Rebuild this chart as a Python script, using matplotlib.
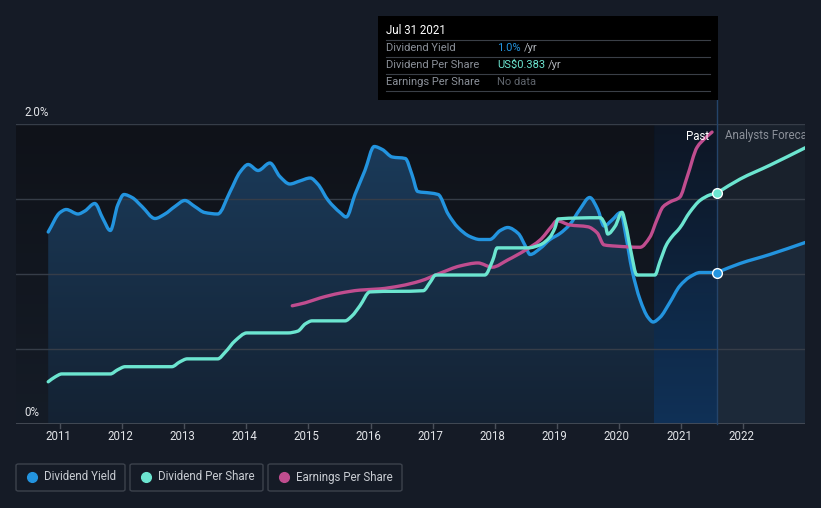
import numpy as np
import matplotlib
matplotlib.use("Agg")
import matplotlib.pyplot as plt
from matplotlib.colors import LinearSegmentedColormap
from matplotlib.patches import Rectangle, FancyBboxPatch, PathPatch
from matplotlib.path import Path

plt.rcParams['font.family'] = ['Roboto', 'DejaVu Sans']

# ---------------- data ----------------
yield_dates = [2010.81, 2011.00, 2011.10, 2011.29, 2011.40, 2011.56, 2011.69, 2011.81, 2011.93, 2012.03,
               2012.16, 2012.32, 2012.53, 2012.69, 2012.85, 2013.01, 2013.17, 2013.33, 2013.54, 2013.74,
               2013.90, 2014.03, 2014.19, 2014.38, 2014.54, 2014.70, 2014.86, 2015.03, 2015.15, 2015.32,
               2015.51, 2015.61, 2015.75, 2015.91, 2016.06, 2016.19, 2016.35, 2016.56, 2016.67, 2016.76,
               2016.96, 2017.09, 2017.25, 2017.41, 2017.60, 2017.76, 2017.92, 2018.09, 2018.21, 2018.38,
               2018.49, 2018.57, 2018.73, 2018.89, 2019.05, 2019.21, 2019.37, 2019.53, 2019.66, 2019.76,
               2019.89, 2020.03, 2020.11, 2020.21, 2020.34, 2020.47, 2020.55, 2020.66, 2020.82, 2020.98,
               2021.14, 2021.31, 2021.58]
yield_pct = [1.28, 1.41, 1.43, 1.40, 1.42, 1.47, 1.37, 1.29, 1.46, 1.53,
             1.51, 1.45, 1.37, 1.40, 1.45, 1.49, 1.45, 1.41, 1.40, 1.55,
             1.68, 1.73, 1.69, 1.74, 1.65, 1.60, 1.62, 1.64, 1.60, 1.49,
             1.41, 1.38, 1.53, 1.69, 1.85, 1.83, 1.78, 1.77, 1.66, 1.55,
             1.54, 1.53, 1.40, 1.31, 1.25, 1.23, 1.23, 1.29, 1.31, 1.27,
             1.19, 1.13, 1.17, 1.23, 1.27, 1.33, 1.43, 1.51, 1.43, 1.32,
             1.36, 1.41, 1.26, 1.03, 0.83, 0.71, 0.68, 0.71, 0.81, 0.92,
             0.98, 1.01, 1.01]
yield_fc_dates = [2021.58, 2021.95, 2022.43, 2023.00]
yield_fc_pct = [1.01, 1.07, 1.13, 1.21]

dps_dates = [2010.81, 2010.92, 2011.03, 2011.81, 2011.93, 2012.05, 2012.80, 2012.93, 2013.05, 2013.54,
             2013.66, 2013.82, 2014.01, 2014.67, 2014.83, 2014.95, 2015.06, 2015.59, 2015.70, 2015.83,
             2015.99, 2016.85, 2016.96, 2017.05, 2017.84, 2017.97, 2018.04, 2018.54, 2018.73, 2018.89,
             2018.97, 2019.02, 2019.70, 2019.78, 2019.82, 2019.94, 2020.05, 2020.11, 2020.19, 2020.29,
             2020.58, 2020.66, 2020.77, 2020.85, 2020.98, 2021.14, 2021.31, 2021.47, 2021.58]
dps_usd = [0.070, 0.078, 0.083, 0.083, 0.090, 0.095, 0.095, 0.103, 0.108, 0.108,
           0.119, 0.138, 0.151, 0.151, 0.154, 0.166, 0.171, 0.171, 0.179, 0.196,
           0.219, 0.221, 0.235, 0.247, 0.247, 0.272, 0.292, 0.292, 0.297, 0.310,
           0.325, 0.340, 0.342, 0.330, 0.315, 0.328, 0.351, 0.330, 0.288, 0.247,
           0.247, 0.269, 0.298, 0.310, 0.325, 0.351, 0.371, 0.380, 0.383]
dps_fc_dates = [2021.58, 2021.95, 2022.43, 2023.00]
dps_fc_usd = [0.383, 0.406, 0.429, 0.458]

eps_dates = [2014.74, 2014.95, 2015.19, 2015.51, 2015.83, 2016.15, 2016.48, 2016.80, 2017.12, 2017.44,
             2017.73, 2017.96, 2018.21, 2018.49, 2018.73, 2018.92, 2019.00, 2019.21, 2019.50, 2019.65,
             2019.76, 2019.94, 2020.34, 2020.50, 2020.61, 2020.71, 2020.82, 2020.98, 2021.10, 2021.26,
             2021.39, 2021.50]
eps_usd = [0.196, 0.201, 0.209, 0.217, 0.222, 0.224, 0.229, 0.237, 0.250, 0.262,
           0.267, 0.260, 0.272, 0.288, 0.305, 0.328, 0.337, 0.330, 0.327, 0.317,
           0.297, 0.295, 0.293, 0.310, 0.338, 0.360, 0.368, 0.376, 0.410, 0.459,
           0.474, 0.484]

year_ticks = list(range(2011, 2023))
past_start, past_end = 2020.57, 2021.58

# ---------------- colours ----------------
BG = '#151b26'
BLUE = '#2394df'
TEAL = '#6ce5d0'
MAG = '#c04d8f'

W, H = 821, 508
fig = plt.figure(figsize=(W / 100, H / 100), dpi=100, facecolor=BG)

def fx(px):
    return px / W

def fy(py):
    return 1 - py / H


def smooth_path(xs, ys, close_to=None):
    """Monotone cubic (Bezier) path through the data points."""
    x = np.asarray(xs, float)
    y = np.asarray(ys, float)
    n = len(x)
    d = np.diff(y) / np.diff(x)
    m = np.zeros(n)
    if n > 1:
        m[0] = d[0]
        m[-1] = d[-1]
    for i in range(1, n - 1):
        if d[i - 1] * d[i] <= 0:
            m[i] = 0.0
        else:
            w1 = 2 * (x[i + 1] - x[i]) + (x[i] - x[i - 1])
            w2 = (x[i + 1] - x[i]) + 2 * (x[i] - x[i - 1])
            m[i] = (w1 + w2) / (w1 / d[i - 1] + w2 / d[i])
    verts = [(x[0], y[0])]
    codes = [Path.MOVETO]
    for i in range(n - 1):
        h = x[i + 1] - x[i]
        verts += [(x[i] + h / 3, y[i] + m[i] * h / 3),
                  (x[i + 1] - h / 3, y[i + 1] - m[i + 1] * h / 3),
                  (x[i + 1], y[i + 1])]
        codes += [Path.CURVE4] * 3
    if close_to is not None:
        verts += [(x[-1], close_to), (x[0], close_to), (x[0], y[0])]
        codes += [Path.LINETO, Path.LINETO, Path.CLOSEPOLY]
    return Path(verts, codes)


def draw_line(axis, xs, ys, color, z):
    p = PathPatch(smooth_path(xs, ys), facecolor='none', edgecolor=color, lw=2.4,
                  joinstyle='round', capstyle='round', zorder=z)
    axis.add_patch(p)


# plot area in pixels: x 16..805, y 124..424
L, R, T, B = 16, 805, 124, 424
ax = fig.add_axes([fx(L), fy(B), fx(R) - fx(L), fy(T) - fy(B)])
ax.set_facecolor('none')
x0 = 2011 + (L - 60) / 62.1
x1 = 2011 + (R - 60) / 62.1
for s in ax.spines.values():
    s.set_visible(False)
ax.set_yticks([])
ax.set_xticks([])

grad = np.linspace(0, 1, 256).reshape(-1, 1)  # row 0 = top

# background regions
cm_past = LinearSegmentedColormap.from_list('p', ['#0f1219', '#151c27'])
ax.imshow(grad, extent=[x0, past_start, 0, 2.0], origin='upper', cmap=cm_past, aspect='auto', zorder=0)
ax.axvspan(past_end, x1, color='#19212c', zorder=0, lw=0)

# yield fill gradient (past)
cm_fill = LinearSegmentedColormap.from_list('f', ['#1b3c5c', '#142233'])
fill_path = smooth_path(yield_dates, yield_pct, close_to=0)
img = ax.imshow(grad, extent=[x0, x1, 0, 2.0], origin='upper', cmap=cm_fill, aspect='auto', zorder=1)
img.set_clip_path(PathPatch(fill_path, transform=ax.transData))
# forecast fill
ax.add_patch(PathPatch(smooth_path(yield_fc_dates, yield_fc_pct, close_to=0),
                       facecolor='#1c2939', edgecolor='none', zorder=1.1))

# past highlight band
cm_hl = LinearSegmentedColormap.from_list('h', ['#0b1524', '#0f3560'])
ax.imshow(grad, extent=[past_start, past_end, 0, 2.0], origin='upper', cmap=cm_hl, aspect='auto',
          zorder=1.2, alpha=0.8)

ax.set_xlim(x0, x1)
ax.set_ylim(0, 2.0)

# grid lines
for v in [0.5, 1.0, 1.5, 2.0]:
    ax.axhline(v, color='#363d48', lw=1, zorder=1.5)
ax.axhline(0, color='#4a505a', lw=1.2, zorder=1.5)

# vertical marker line (extends up to the tooltip)
ax.plot([past_end, past_end], [0, 2.16], color='#24446a', lw=1, zorder=1.6, clip_on=False)

# lines
draw_line(ax, yield_dates, yield_pct, BLUE, 4)
draw_line(ax, yield_fc_dates, yield_fc_pct, BLUE, 4)

ax2 = ax.twinx()
ax2.set_ylim(0, 0.4974)
ax2.set_xlim(x0, x1)
ax2.axis('off')
draw_line(ax2, eps_dates, eps_usd, MAG, 3)
draw_line(ax2, dps_dates, dps_usd, TEAL, 4)
draw_line(ax2, dps_fc_dates, dps_fc_usd, TEAL, 4)
ax2.plot([dps_dates[-1]], [dps_usd[-1]], 'o', ms=7, mfc=TEAL, mec='white', mew=1, zorder=6)
ax.plot([yield_dates[-1]], [yield_pct[-1]], 'o', ms=7, mfc=BLUE, mec='white', mew=1, zorder=6)

# year ticks
for yr in year_ticks:
    px = 60 + 62.1 * (yr - 2011)
    fig.add_artist(plt.Line2D([fx(px), fx(px)], [fy(424), fy(428)], color='#4a505a', lw=1))
    fig.text(fx(px - 2), fy(437), str(yr), color='#e2e4e8', fontsize=8.3, ha='center', va='center')

# y labels
fig.text(fx(24), fy(112), '2.0%', color='#e2e4e8', fontsize=8.3, ha='left', va='center')
fig.text(fx(24), fy(412), '0%', color='#e2e4e8', fontsize=8.3, ha='left', va='center')

# Past / Analysts Forecast labels
fig.text(fx(709), fy(136), 'Past', color='#ffffff', fontsize=8.3, ha='right', va='center')
fc_txt = fig.text(fx(725), fy(136), 'Analysts Forecast', color='#8b9099', fontsize=8.3, ha='left', va='center')
fc_txt.set_clip_path(Rectangle((fx(716), fy(150)), fx(805) - fx(716), fy(120) - fy(150), transform=fig.transFigure))
fc_txt.set_clip_on(True)

# tooltip
fig.add_artist(Rectangle((fx(378), fy(100)), fx(718) - fx(378), fy(16) - fy(100),
                         transform=fig.transFigure, facecolor='#000000', edgecolor='none', zorder=10))
fig.text(fx(386), fy(31), 'Jul 31 2021', color='#ffffff', fontsize=8.3, ha='left', va='center', zorder=11)
rows = [('Dividend Yield', '1.0%', BLUE), ('Dividend Per Share', 'US$0.383', TEAL), ('Earnings Per Share', 'No data', None)]
fig.canvas.draw()
for i, (lab, val, col) in enumerate(rows):
    yy = 48 + 17 * i
    fig.text(fx(386), fy(yy), lab, color='#8b9099', fontsize=8, ha='left', va='center', zorder=11)
    if col is None:
        fig.text(fx(497), fy(yy), val, color='#5f646c', fontsize=8, ha='left', va='center', zorder=11)
    else:
        t = fig.text(fx(497), fy(yy), val, color=col, fontsize=8, ha='left', va='center', zorder=11)
        bb = t.get_window_extent(renderer=fig.canvas.get_renderer())
        fig.text(bb.x1 / W + fx(3), fy(yy), '/yr', color='#b0b4ba', fontsize=8,
                 ha='left', va='center', zorder=11)
for yy in [40, 57, 74, 91]:
    fig.add_artist(plt.Line2D([fx(386), fx(710)], [fy(yy), fy(yy)], color='#3a3f47', lw=0.8, zorder=11))

# legend
legend_items = [('Dividend Yield', BLUE, 16, 125), ('Dividend Per Share', TEAL, 130, 263), ('Earnings Per Share', MAG, 268, 402)]
for lab, col, xa, xb in legend_items:
    fig.add_artist(FancyBboxPatch((fx(xa), fy(491)), fx(xb) - fx(xa), fy(464) - fy(491),
                                  boxstyle='round,pad=0,rounding_size=0.003', transform=fig.transFigure,
                                  facecolor='none', edgecolor='#3c424c', lw=1))
    fig.add_artist(plt.Line2D([fx(xa + 16)], [fy(477)], marker='o', ms=7, color=col, mec=col))
    fig.text(fx(xa + 28), fy(477), lab, color='#c8ccd2', fontsize=8.3, ha='left', va='center')

fig.savefig('out.png', dpi=100, facecolor=BG)
